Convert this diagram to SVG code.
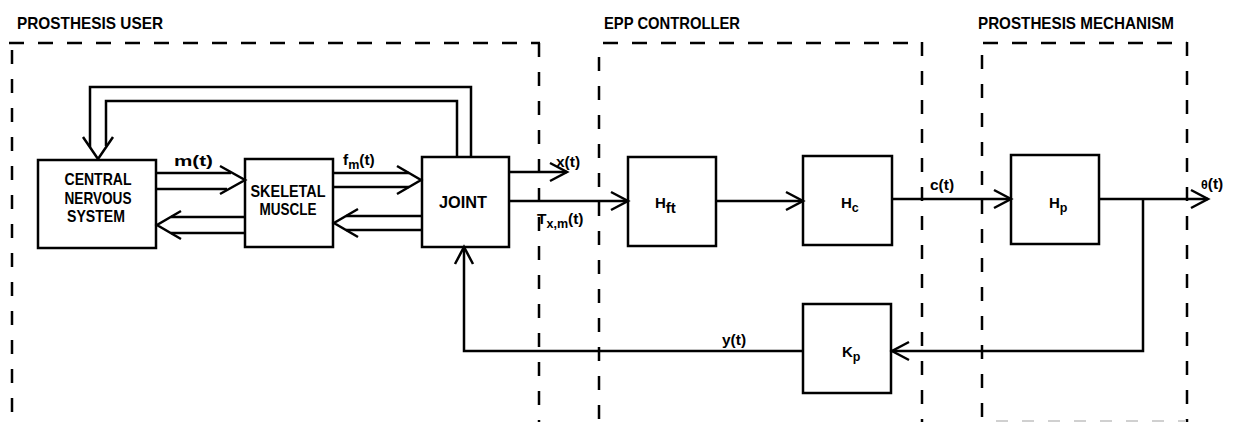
<svg xmlns="http://www.w3.org/2000/svg" width="1236" height="422" viewBox="0 0 1236 422">
<style>
.bg{fill:#fff}
.box{fill:none;stroke:#000;stroke-width:2.5}
.ln{fill:none;stroke:#000;stroke-width:2.5;stroke-linejoin:miter}
.hd{fill:none;stroke:#000;stroke-width:2.5;stroke-linejoin:miter}
.dh{fill:none;stroke:#000;stroke-width:2.5;stroke-dasharray:15 14}
.dv{fill:none;stroke:#000;stroke-width:2.5;stroke-dasharray:14 15}
.faint{fill:none;stroke:#d0d0d0;stroke-width:2;stroke-dasharray:12 14}
text{font-family:"Liberation Sans",Arial,sans-serif;font-weight:bold;fill:#000}
.t{font-size:16.5px}
.b{font-size:16.5px}
.h{font-size:15px}
.l{font-size:15.5px}
.s{font-size:12.5px}
</style>
<defs>
<marker id="ah" markerUnits="userSpaceOnUse" markerWidth="24" markerHeight="24" viewBox="-20 -12 24 24" refX="0" refY="0" orient="auto">
<path d="M-17,-9 L0,0 L-17,9" fill="none" stroke="#000" stroke-width="2.5"/>
</marker>
</defs>
<rect class="bg" x="0" y="0" width="1236" height="422"/>

<g id="regions">
<g id="prosthesis-user">
<path class="dh" d="M9,43 H540"/>
<path class="dv" d="M12,50 V422"/>
<path class="dv" d="M539,43 V422"/>
<text class="t" x="17" y="29" textLength="146" lengthAdjust="spacingAndGlyphs">PROSTHESIS USER</text>
</g>
<g id="epp-controller">
<path class="dh" d="M603,43 H922"/>
<path class="dv" d="M599,57 V422"/>
<path class="dv" d="M922,42 V422"/>
<text class="t" x="604" y="29" textLength="136" lengthAdjust="spacingAndGlyphs">EPP CONTROLLER</text>
</g>
<g id="prosthesis-mechanism">
<path class="dh" d="M983,43 H1187"/>
<path class="dv" d="M982,55 V422"/>
<path class="dv" d="M1187,42 V422"/>
<path class="faint" d="M996,421 H1186"/>
<text class="t" x="978" y="29" textLength="196" lengthAdjust="spacingAndGlyphs">PROSTHESIS MECHANISM</text>
</g>
</g>

<g id="connectors">
<path class="ln" d="M471,157 V87 H90 V147"/>
<path class="ln" d="M457,157 V101 H106 V146"/>
<polyline class="hd" points="83,137 98,159 113,137"/>
<path class="ln" d="M156,173 H231"/>
<path class="ln" d="M156,189 H227"/>
<polyline class="hd" points="220,166 245,180 220,194"/>
<text class="l" x="174" y="166" textLength="39" lengthAdjust="spacingAndGlyphs">m(t)</text>
<path class="ln" d="M245,217 H171"/>
<path class="ln" d="M245,233 H171"/>
<polyline class="hd" points="181,211 157,225 181,239"/>
<path class="ln" d="M333,173 H409"/>
<path class="ln" d="M333,187 H409"/>
<polyline class="hd" points="397,166 421,180 397,194"/>
<text class="l" x="343" y="165">f<tspan class="s" dy="4">m</tspan><tspan dy="-4">(t)</tspan></text>
<path class="ln" d="M422,216 H346"/>
<path class="ln" d="M422,230 H346"/>
<polyline class="hd" points="358,209 334,223 358,237"/>
<path class="ln" d="M509,172 H567" marker-end="url(#ah)"/>
<text class="l" x="556" y="167">x(t)</text>
<path class="ln" d="M509,201 H628" marker-end="url(#ah)"/>
<text class="l" x="537" y="224">T<tspan class="s" dy="4">x,m</tspan><tspan dy="-4">(t)</tspan></text>
<path class="ln" d="M716,201 H803" marker-end="url(#ah)"/>
<path class="ln" d="M892,199 H1011" marker-end="url(#ah)"/>
<text class="l" x="930" y="190">c(t)</text>
<path class="ln" d="M1099,199 H1208" marker-end="url(#ah)"/>
<text class="l" x="1201" y="189"><tspan class="s">θ</tspan>(t)</text>
<path class="ln" d="M1143,199 V351 H892" marker-end="url(#ah)"/>
<path class="ln" d="M803,351 H464 V247" marker-end="url(#ah)"/>
<text class="l" x="722" y="345">y(t)</text>
</g>

<g id="cns">
<rect class="box" x="38" y="160" width="118" height="88"/>
<text class="b" x="98" y="185" text-anchor="middle" textLength="67" lengthAdjust="spacingAndGlyphs">CENTRAL</text>
<text class="b" x="98" y="204" text-anchor="middle" textLength="67" lengthAdjust="spacingAndGlyphs">NERVOUS</text>
<text class="b" x="96" y="222" text-anchor="middle" textLength="58" lengthAdjust="spacingAndGlyphs">SYSTEM</text>
</g>
<g id="skeletal-muscle">
<rect class="box" x="245" y="159" width="88" height="88"/>
<text class="b" x="288" y="197" text-anchor="middle" textLength="75" lengthAdjust="spacingAndGlyphs">SKELETAL</text>
<text class="b" x="288" y="215" text-anchor="middle" textLength="57" lengthAdjust="spacingAndGlyphs">MUSCLE</text>
</g>
<g id="joint">
<rect class="box" x="422" y="157" width="87" height="90"/>
<text class="b" x="463" y="208" text-anchor="middle" textLength="48" lengthAdjust="spacingAndGlyphs">JOINT</text>
</g>
<g id="hft">
<rect class="box" x="628" y="157" width="88" height="89"/>
<text class="h" x="655" y="208">H<tspan dy="5">ft</tspan></text>
</g>
<g id="hc">
<rect class="box" x="803" y="156" width="89" height="89"/>
<text class="h" x="841" y="208">H<tspan class="s" dy="4">c</tspan></text>
</g>
<g id="hp">
<rect class="box" x="1011" y="155" width="88" height="89"/>
<text class="h" x="1049" y="208">H<tspan class="s" dy="4">p</tspan></text>
</g>
<g id="kp">
<rect class="box" x="803" y="304" width="88" height="89"/>
<text class="h" x="842" y="357">K<tspan class="s" dy="4">p</tspan></text>
</g>
</svg>
